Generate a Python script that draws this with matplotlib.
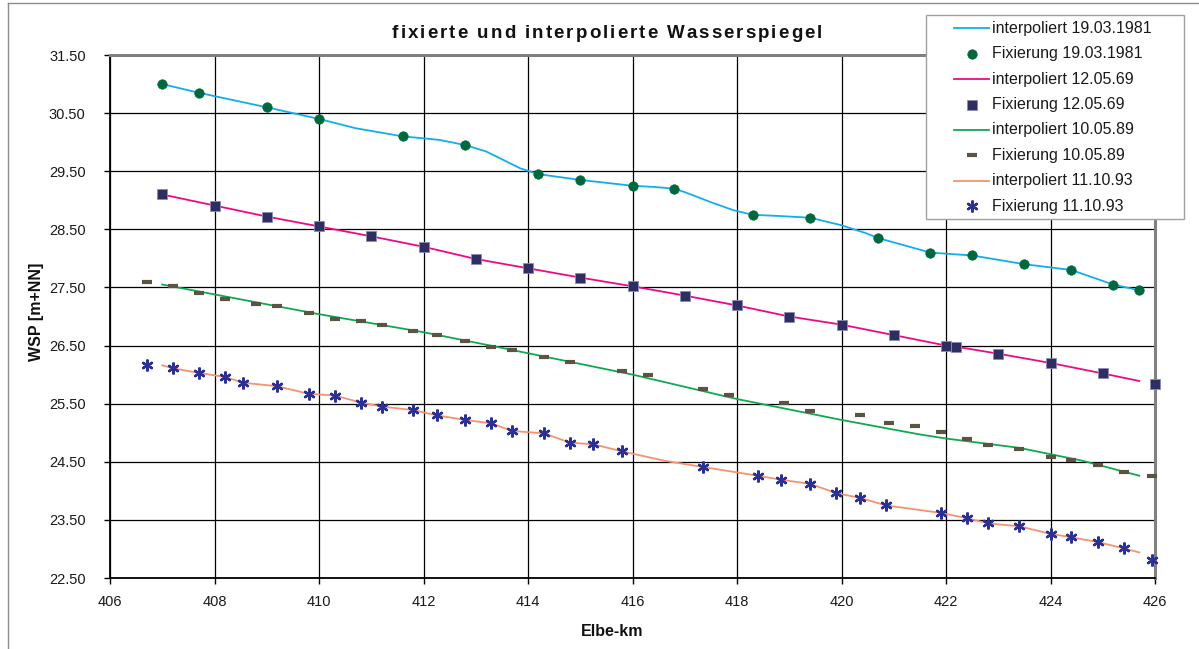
import numpy as np
import matplotlib
matplotlib.use("Agg")
import matplotlib.pyplot as plt
from matplotlib.lines import Line2D
from matplotlib.patches import Rectangle
from matplotlib.font_manager import FontProperties

plt.rcParams['font.family'] = ['Liberation Sans', 'DejaVu Sans']

# --- Fixierung 19.03.1981 (measured water levels) ---
km_fix_1981 = [407.0, 407.7, 409.0, 410.0, 411.6, 412.8, 414.2, 415.0, 416.0, 416.8,
               418.3, 419.4, 420.7, 421.7, 422.5, 423.5, 424.4, 425.2, 425.7]
wsp_fix_1981 = [31.00, 30.85, 30.60, 30.40, 30.10, 29.95, 29.45, 29.35, 29.25, 29.20,
                28.75, 28.70, 28.35, 28.10, 28.05, 27.90, 27.80, 27.55, 27.45]

# --- interpoliert 19.03.1981 ---
km_int_1981 = [407.0, 407.7, 409.0, 410.0, 410.7, 411.6, 412.3, 412.8, 413.2, 413.47,
               413.85, 414.2, 415.0, 416.0, 416.4, 416.8, 417.0, 417.55, 417.93, 418.3,
               418.8, 419.4, 420.0, 420.48, 420.7, 421.7, 422.5, 423.5, 424.4, 425.2, 425.7]
wsp_int_1981 = [31.00, 30.85, 30.60, 30.40, 30.24, 30.10, 30.04, 29.95, 29.84, 29.72,
                29.55, 29.45, 29.35, 29.25, 29.23, 29.20, 29.14, 28.95, 28.83, 28.75,
                28.73, 28.70, 28.57, 28.43, 28.35, 28.10, 28.05, 27.90, 27.80, 27.55, 27.45]

# --- Fixierung 12.05.69 ---
km_fix_1969 = [407.0, 408.0, 409.0, 410.0, 411.0, 412.0, 413.0, 414.0, 415.0, 416.0,
               417.0, 418.0, 419.0, 420.0, 421.0, 422.0, 422.2, 423.0, 424.0, 425.0, 426.0]
wsp_fix_1969 = [29.10, 28.91, 28.72, 28.55, 28.38, 28.20, 27.99, 27.83, 27.67, 27.52,
                27.36, 27.19, 27.00, 26.86, 26.68, 26.50, 26.48, 26.36, 26.20, 26.02, 25.84]

# --- interpoliert 12.05.69 ---
km_int_1969 = [407.0, 408.0, 409.0, 410.0, 411.0, 412.0, 413.0, 414.0, 415.0, 416.0,
               417.0, 418.0, 419.0, 420.0, 421.0, 422.0, 422.2, 423.0, 424.0, 425.0, 425.7]
wsp_int_1969 = [29.10, 28.91, 28.72, 28.55, 28.38, 28.20, 27.99, 27.83, 27.67, 27.52,
                27.36, 27.19, 27.00, 26.86, 26.68, 26.50, 26.48, 26.36, 26.20, 26.02, 25.89]

# --- Fixierung 10.05.89 ---
km_fix_1989 = [406.7, 407.2, 407.7, 408.2, 408.8, 409.2, 409.8, 410.3, 410.8, 411.2,
               411.8, 412.25, 412.8, 413.3, 413.7, 414.3, 414.8, 415.8, 416.3, 417.35,
               417.85, 418.9, 419.4, 420.35, 420.9, 421.4, 421.9, 422.4, 422.8, 423.4,
               424.0, 424.4, 424.9, 425.4, 425.95]
wsp_fix_1989 = [27.60, 27.52, 27.40, 27.30, 27.22, 27.18, 27.06, 26.96, 26.92, 26.85,
                26.75, 26.68, 26.58, 26.48, 26.42, 26.31, 26.22, 26.07, 25.99, 25.76,
                25.65, 25.51, 25.38, 25.31, 25.16, 25.11, 25.01, 24.90, 24.79, 24.72,
                24.58, 24.53, 24.44, 24.32, 24.25]

# --- interpoliert 10.05.89 ---
km_int_1989 = [407.0, 408.0, 410.0, 412.0, 413.5, 416.0, 418.0, 420.0, 421.5, 422.0,
               423.4, 424.0, 424.6, 425.7]
wsp_int_1989 = [27.55, 27.38, 27.04, 26.73, 26.46, 26.00, 25.58, 25.22, 24.97, 24.90,
                24.74, 24.63, 24.52, 24.26]

# --- Fixierung 11.10.93 ---
km_fix_1993 = [406.7, 407.2, 407.7, 408.2, 408.55, 409.2, 409.8, 410.3, 410.8, 411.2,
               411.8, 412.25, 412.8, 413.3, 413.7, 414.3, 414.8, 415.25, 415.8, 417.35,
               418.4, 418.85, 419.4, 419.9, 420.35, 420.85, 421.9, 422.4, 422.8, 423.4,
               424.0, 424.4, 424.9, 425.4, 425.95]
wsp_fix_1993 = [26.16, 26.11, 26.03, 25.96, 25.86, 25.80, 25.67, 25.64, 25.52, 25.45,
                25.39, 25.30, 25.22, 25.16, 25.03, 24.99, 24.83, 24.80, 24.68, 24.41,
                24.26, 24.19, 24.12, 23.96, 23.88, 23.75, 23.62, 23.53, 23.44, 23.39,
                23.26, 23.20, 23.12, 23.01, 22.81]

# --- interpoliert 11.10.93 ---
km_int_1993 = [407.0, 407.2, 407.7, 408.2, 408.55, 409.2, 409.8, 410.3, 410.8, 411.2,
               411.8, 412.25, 412.8, 413.3, 413.7, 414.3, 414.8, 415.25, 415.8, 416.6,
               417.35, 418.4, 418.85, 419.4, 419.9, 420.35, 420.85, 421.9, 422.4, 422.8,
               423.4, 424.0, 424.4, 424.9, 425.4, 425.7]
wsp_int_1993 = [26.16, 26.11, 26.03, 25.96, 25.86, 25.80, 25.67, 25.64, 25.52, 25.45,
                25.39, 25.30, 25.22, 25.16, 25.03, 24.99, 24.83, 24.80, 24.68, 24.52,
                24.41, 24.26, 24.19, 24.12, 23.96, 23.88, 23.75, 23.62, 23.53, 23.44,
                23.39, 23.26, 23.20, 23.12, 23.01, 22.94]

x_ticks = [406, 408, 410, 412, 414, 416, 418, 420, 422, 424, 426]
y_ticks = [22.5, 23.5, 24.5, 25.5, 26.5, 27.5, 28.5, 29.5, 30.5, 31.5]

title = "fixierte und interpolierte Wasserspiegel"
x_label = "Elbe-km"
y_label = "WSP [m+NN]"

# series styles: (label, x, y, style)
line_style = dict(linestyle='-', linewidth=1.3, marker=None)
series = [
    ("interpoliert 19.03.1981", km_int_1981, wsp_int_1981,
     dict(line_style, color='#12AEEA')),
    ("Fixierung 19.03.1981", km_fix_1981, wsp_fix_1981,
     dict(linestyle='none', marker='o', markersize=6.8, color='#00683C',
          markeredgecolor='#00683C', markeredgewidth=0.5)),
    ("interpoliert 12.05.69", km_int_1969, wsp_int_1969,
     dict(line_style, color='#EC0B86')),
    ("Fixierung 12.05.69", km_fix_1969, wsp_fix_1969,
     dict(linestyle='none', marker='s', markersize=7.2, color='#2E2E62',
          markeredgecolor='#8A8AB8', markeredgewidth=0.6)),
    ("interpoliert 10.05.89", km_int_1989, wsp_int_1989,
     dict(line_style, color='#10A850')),
    ("Fixierung 10.05.89", km_fix_1989, wsp_fix_1989,
     dict(linestyle='none', marker='_', markersize=7, color='#5B5443',
          markeredgewidth=3.0)),
    ("interpoliert 11.10.93", km_int_1993, wsp_int_1993,
     dict(line_style, color='#F5936F')),
    ("Fixierung 11.10.93", km_fix_1993, wsp_fix_1993,
     dict(linestyle='none', marker=(6, 2, 0), markersize=8.5, color='#2B3094',
          markeredgecolor='#2B3094', markeredgewidth=1.7)),
]

W, H = 1199, 649
fig = plt.figure(figsize=(W / 100, H / 100), dpi=100)
fig.patch.set_facecolor('white')

ax_l, ax_r, ax_t, ax_b = 110, 1155, 55, 578
ax = fig.add_axes([ax_l / W, 1 - ax_b / H, (ax_r - ax_l) / W, (ax_b - ax_t) / H])

for label, xs, ys, st in series:
    ax.plot(xs, ys, label=label, clip_on=False, zorder=3, **st)

ax.set_xlim(406, 426)
ax.set_ylim(22.5, 31.5)
ax.set_xticks(x_ticks)
ax.set_yticks(y_ticks)
ax.set_xticklabels([str(v) for v in x_ticks])
ax.set_yticklabels([f"{v:.2f}" for v in y_ticks])
ax.grid(True, color='black', linewidth=0.9, zorder=1)
ax.set_axisbelow(True)

ax.tick_params(axis='both', direction='out', length=4.5, width=1.0, color='black',
               labelsize=10.5, labelcolor='#1a1a1a')
ax.tick_params(axis='y', pad=13)
ax.tick_params(axis='x', pad=8)

for side in ('left', 'bottom'):
    ax.spines[side].set_color('black')
    ax.spines[side].set_linewidth(1.3)
for side in ('top', 'right'):
    ax.spines[side].set_color('#808080')
    ax.spines[side].set_linewidth(2.2)

# title with widened letter spacing
title_prop = FontProperties(family=['Liberation Sans', 'DejaVu Sans'], weight='bold', size=13.5)
renderer = fig.canvas.get_renderer()


def text_width(s):
    return renderer.get_text_width_height_descent(s, title_prop, ismath=False)[0]


base = text_width("xx")
char_w = [text_width("x" + c + "x") - base for c in title]
title_left, title_right = 392, 822
gap = (title_right - title_left - sum(char_w)) / (len(title) - 1)
xpos = title_left
for c, w in zip(title, char_w):
    if c != " ":
        fig.text(xpos / W, 1 - 33 / H, c, ha='left', va='center',
                 fontproperties=title_prop, color='#111111')
    xpos += w + gap

fig.text(612 / W, 1 - 631 / H, x_label, ha='center', va='center',
         fontsize=11.5, fontweight='bold', color='#111111')
fig.text(36 / W, 1 - 312 / H, y_label, ha='center', va='center', rotation=90,
         fontsize=11.5, fontweight='bold', color='#111111')

# outer chart frame
fig.add_artist(Line2D([8 / W, 8 / W], [0, 1 - 3 / H], transform=fig.transFigure,
                      color='#8c8c8c', linewidth=1.0))
fig.add_artist(Line2D([8 / W, 1], [1 - 3 / H, 1 - 3 / H], transform=fig.transFigure,
                      color='#8c8c8c', linewidth=1.0))

# legend box
lg_l, lg_t, lg_r, lg_b = 926, 15, 1184, 219
fig.add_artist(Rectangle((lg_l / W, 1 - lg_b / H), (lg_r - lg_l) / W, (lg_b - lg_t) / H,
                         transform=fig.transFigure, facecolor='white',
                         edgecolor='#a0a0a0', linewidth=1.0, zorder=5))
row0, row_step = 28.3, 25.4
h_x0, h_x1, txt_x = 954, 989, 992
for i, (label, xs, ys, st) in enumerate(series):
    yy = 1 - (row0 + i * row_step) / H
    if st.get('marker') is None:
        fig.add_artist(Line2D([h_x0 / W, h_x1 / W], [yy, yy], transform=fig.transFigure,
                              zorder=6, **st))
    else:
        fig.add_artist(Line2D([(h_x0 + h_x1) / 2 / W], [yy], transform=fig.transFigure,
                              zorder=6, **st))
    fig.text(txt_x / W, yy, label, ha='left', va='center', fontsize=11.5,
             color='#1a1a1a', zorder=7)

fig.savefig("out.png", dpi=100, facecolor='white')
